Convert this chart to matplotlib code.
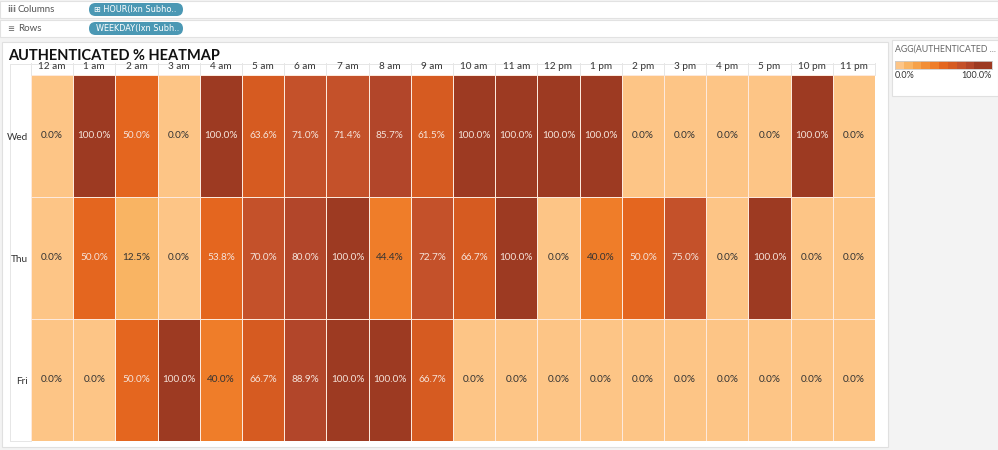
import matplotlib
matplotlib.use("Agg")
import matplotlib.pyplot as plt
import numpy as np
from matplotlib.colors import ListedColormap, BoundaryNorm
from matplotlib.patches import Rectangle, FancyBboxPatch

plt.rcParams['font.family'] = ['Lato', 'DejaVu Sans']

hours = ['12 am', '1 am', '2 am', '3 am', '4 am', '5 am', '6 am', '7 am', '8 am', '9 am',
         '10 am', '11 am', '12 pm', '1 pm', '2 pm', '3 pm', '4 pm', '5 pm', '10 pm', '11 pm']
weekdays = ['Wed', 'Thu', 'Fri']
wed = [0.0, 100.0, 50.0, 0.0, 100.0, 63.6, 71.0, 71.4, 85.7, 61.5,
       100.0, 100.0, 100.0, 100.0, 0.0, 0.0, 0.0, 0.0, 100.0, 0.0]
thu = [0.0, 50.0, 12.5, 0.0, 53.8, 70.0, 80.0, 100.0, 44.4, 72.7,
       66.7, 100.0, 0.0, 40.0, 50.0, 75.0, 0.0, 100.0, 0.0, 0.0]
fri = [0.0, 0.0, 50.0, 100.0, 40.0, 66.7, 88.9, 100.0, 100.0, 66.7,
       0.0, 0.0, 0.0, 0.0, 0.0, 0.0, 0.0, 0.0, 0.0, 0.0]

step_colors = ['#fdc586', '#f9b463', '#f6a24a', '#f28e36', '#ef7d29',
               '#e4661f', '#d65b21', '#c4512a', '#b2462a', '#9d3a22']
cmap = ListedColormap(step_colors)
bounds = [0, 10, 20, 30, 40, 50, 60, 70, 80, 90, 100.01]
norm = BoundaryNorm(bounds, cmap.N)

W, H = 998, 450
fig = plt.figure(figsize=(W / 100, H / 100), dpi=100)
fig.patch.set_facecolor('#f3f3f3')


def px(x0, y0, x1, y1):
    return [x0 / W, 1 - y1 / H, (x1 - x0) / W, (y1 - y0) / H]


bg = fig.add_axes([0, 0, 1, 1])
bg.set_xlim(0, W)
bg.set_ylim(H, 0)
bg.axis('off')

# shelves
shelves = [(1, 'Columns', '\u229e HOUR(Ixn Subho..', 'iii', 94),
           (20, 'Rows', 'WEEKDAY(Ixn Subh..', '\u2261', 96)]
for y0, label, pill, icon, tx in shelves:
    bg.add_patch(Rectangle((0, y0), W, 17, facecolor='white', edgecolor='#e2e2e2', lw=0.8))
    bg.text(7, y0 + 8.5, icon, fontsize=6, color='#777777', va='center', ha='left',
            family=['DejaVu Sans'], fontweight='bold')
    bg.text(18, y0 + 8.5, label, fontsize=7, color='#555555', va='center', ha='left')
    bg.add_patch(FancyBboxPatch((89, y0 + 2), 94, 13, boxstyle='round,pad=0,rounding_size=6.5',
                                facecolor='#4b98b4', edgecolor='none'))
    bg.text(tx, y0 + 8.5, pill, fontsize=5.9, color='white', va='center', ha='left',
            family=['DejaVu Sans'])

# main panel
bg.add_patch(Rectangle((2, 42), 886, 405, facecolor='white', edgecolor='#e0e0e0', lw=0.8))
bg.text(8, 56, 'AUTHENTICATED % HEATMAP', fontsize=10.5, fontweight='bold', color='#111111',
        va='center', ha='left')
bg.plot([10, 875], [63.5, 63.5], color='#e6e6e6', lw=0.7)
bg.plot([10, 10], [63.5, 441], color='#e6e6e6', lw=0.7)
bg.plot([10, 31], [441, 441], color='#e6e6e6', lw=0.7)

# legend panel
bg.add_patch(Rectangle((892, 40), 106, 56, facecolor='white', edgecolor='#e0e0e0', lw=0.8))
bg.text(895, 49, 'AGG(AUTHENTICATED ...', fontsize=6.3, color='#666666', va='center', ha='left')

# heatmap
ax = fig.add_axes(px(31, 75, 875, 441))
data = np.array([wed, thu, fri])
ax.pcolormesh(np.arange(len(hours) + 1), np.arange(len(weekdays) + 1), data,
              cmap=cmap, norm=norm, edgecolors='#fde9dc', linewidth=0.5)
ax.set_xlim(0, len(hours))
ax.set_ylim(len(weekdays), 0)
for i, row in enumerate(data):
    for j, v in enumerate(row):
        c = '#f5e3da' if v >= 50 else '#333333'
        ax.text(j + 0.5, i + 0.5, f'{v:.1f}%', ha='center', va='center', fontsize=7.2, color=c)
ax.xaxis.tick_top()
ax.set_xticks(np.arange(len(hours)) + 0.5)
ax.set_xticklabels(hours, fontsize=7.2, color='#333333')
ax.set_yticks(np.arange(len(weekdays)) + 0.5)
ax.set_yticklabels(weekdays, fontsize=7.2, color='#333333')
ax.tick_params(length=0, pad=3)
ax.tick_params(axis='y', pad=2)
for s in ax.spines.values():
    s.set_visible(False)
for j in range(len(hours) + 1):
    ax.plot([j, j], [-0.095, 0], color='#e6e6e6', lw=0.7, clip_on=False)

# legend color bar
lax = fig.add_axes(px(895, 61, 992, 69))
lax.imshow(np.arange(11)[None, :] * 10, cmap=cmap, norm=norm, aspect='auto',
           extent=[0, 11, 0, 1])
lax.set_xticks([])
lax.set_yticks([])
for s in lax.spines.values():
    s.set_color('#cccccc')
    s.set_linewidth(0.6)
bg.text(895, 76, '0.0%', fontsize=6.5, color='#333333', va='center', ha='left')
bg.text(992, 76, '100.0%', fontsize=6.5, color='#333333', va='center', ha='right')

fig.savefig('out.png', dpi=100, facecolor=fig.get_facecolor())
